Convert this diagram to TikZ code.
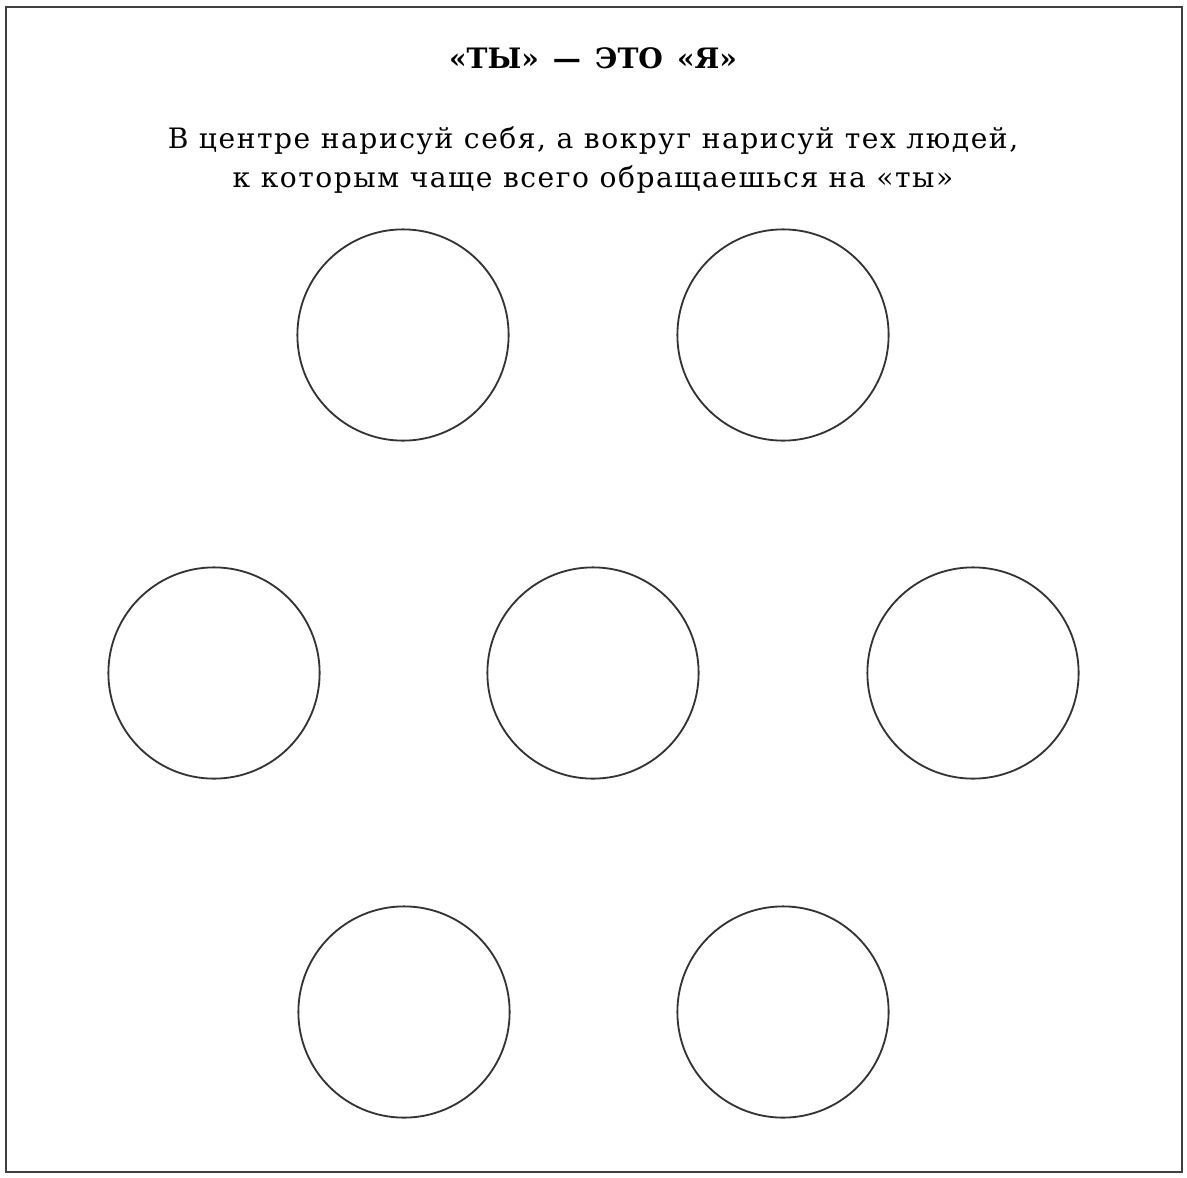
\documentclass[tikz,border=0pt]{standalone}
\usepackage{fontspec}
\setmainfont{DejaVu Serif}
\newfontfamily\taskfont[LetterSpace=5.5]{DejaVu Serif}
\usepackage{tikz}
\usetikzlibrary{positioning}
\tikzset{
  frame/.style   ={draw=black!75, line width=2pt},
  titlebox/.style={font=\bfseries\fontsize{20pt}{24pt}\selectfont, inner sep=0pt, anchor=base},
  textbox/.style ={font=\taskfont\fontsize{20pt}{24pt}\selectfont, inner sep=0pt, anchor=base},
  ring/.style    ={circle, draw=black!80, line width=1.3pt, minimum size=5.28cm, inner sep=0pt},
}
\newcommand{\gap}{\hspace{10pt}}
\begin{document}
\begin{tikzpicture}[x=0.025cm, y=-0.025cm]
\useasboundingbox (0,0) rectangle (1187,1177);
% --- frame ---
\draw[frame] (6,7) rectangle (1182,1172);
% --- heading ---
\node[titlebox] (title) at (593,68) {«ТЫ»\gap—\gap ЭТО\gap«Я»};
\node[textbox]  (task)  at (593,148) {В центре нарисуй себя, а вокруг нарисуй тех людей,};
\node[textbox]  (taskb) at (593,187) {к которым чаще всего обращаешься на «ты»};
% --- circles ---
\node[ring] (tl) at (403,335)  {};
\node[ring] (tr) at (783,335)  {};
\node[ring] (ml) at (214,673)  {};
\node[ring] (me) at (593,673)  {};
\node[ring] (mr) at (973,673)  {};
\node[ring] (bl) at (404,1012) {};
\node[ring] (br) at (783,1012) {};
\end{tikzpicture}
\end{document}
